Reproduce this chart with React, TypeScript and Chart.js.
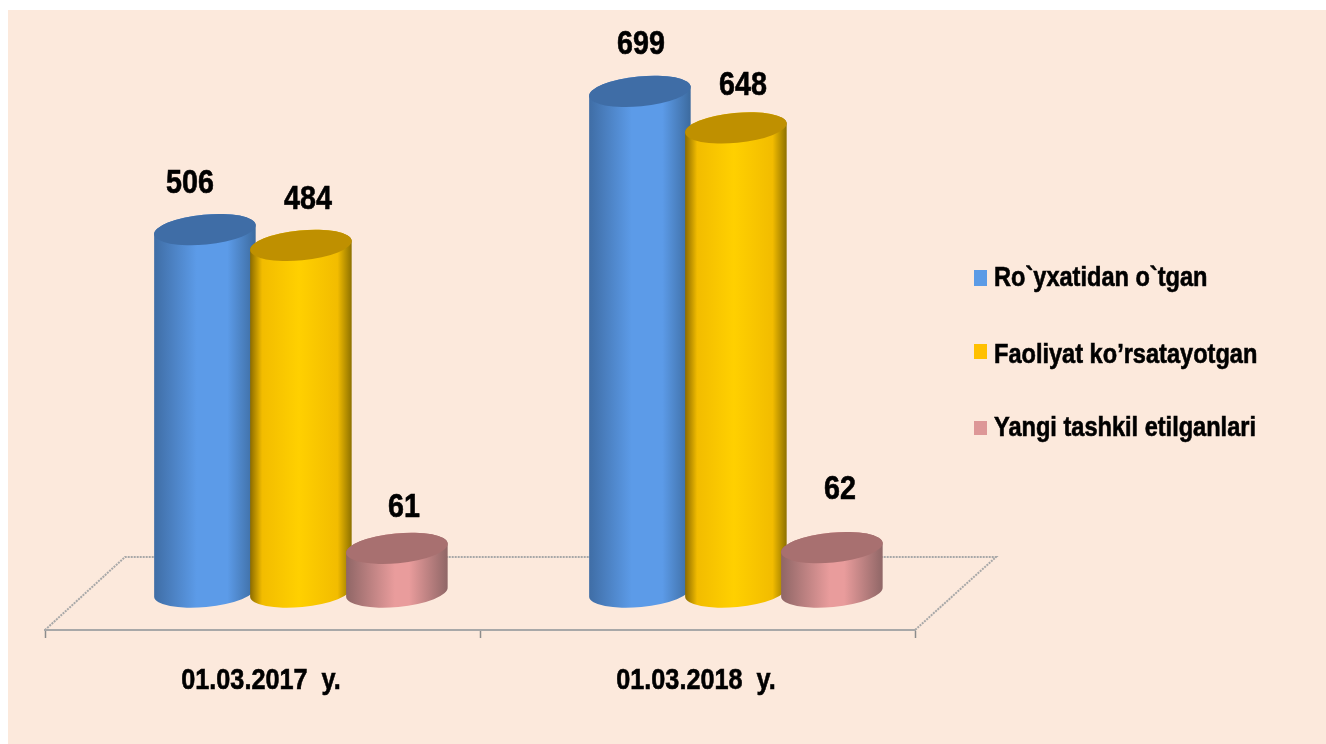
import React, { useEffect, useRef } from "react";
import { Chart, registerables } from "chart.js";

Chart.register(...registerables);

const categories = ["01.03.2017  y.", "01.03.2018  y."];
const seriesNames = ["Ro`yxatidan o`tgan", "Faoliyat ko’rsatayotgan", "Yangi tashkil etilganlari"];
const registered = [506, 699];
const active = [484, 648];
const created = [61, 62];

const swatches = ["#5B9BE6", "#FFC000", "#DD9797"];
const bodyStops: [number, string][][] = [
  [[0, "#3F6DA5"], [0.42, "#5C9BE8"], [0.72, "#5C9BE8"], [1, "#3C6A9E"]],
  [[0, "#8A6A00"], [0.12, "#F2BC00"], [0.48, "#FFD000"], [0.86, "#F2BC00"], [1, "#8C7000"]],
  [[0, "#8F6666"], [0.48, "#E99C9C"], [0.62, "#E99C9C"], [1, "#8F6666"]],
];
const capColors = ["#3F6DA6", "#BF9000", "#A87070"];
// label offset from each cylinder's cap, per series then per category
const labelNudge = [
  [[-15, -33], [1, -33]],
  [[7, -32], [7, -29]],
  [[7, -27], [8, -45]],
];

const BG = "#FCE9DC";
const INK = "#000000";
const SQUEEZE = 0.87;
const DEPTH_X = 80;
const DEPTH_Y = 73;
const TILT = (-5.5 * Math.PI) / 180;
const CAP_RY = 15;

function squeezedText(ctx: CanvasRenderingContext2D, text: string, x: number, y: number, px: number, align: CanvasTextAlign) {
  ctx.save();
  ctx.translate(x, y + 2);
  ctx.scale(SQUEEZE, 1);
  ctx.font = `bold ${px}px "Liberation Sans", Arial, sans-serif`;
  ctx.fillStyle = INK;
  ctx.strokeStyle = INK;
  ctx.lineWidth = 0.6;
  ctx.textAlign = align;
  ctx.textBaseline = "middle";
  ctx.strokeText(text, 0, 0);
  ctx.fillText(text, 0, 0);
  ctx.restore();
}

const scene = {
  id: "scene",
  beforeDraw(chart: any) {
    const { ctx } = chart;
    ctx.save();
    ctx.fillStyle = BG;
    ctx.fillRect(8, 10, 1318, 734);
    ctx.restore();
  },
  beforeDatasetsDraw(chart: any) {
    const { ctx, chartArea } = chart;
    const { left, right, bottom } = chartArea;
    // receding floor edges
    ctx.save();
    ctx.strokeStyle = "#A8A8A8";
    ctx.lineWidth = 2;
    ctx.setLineDash([2, 1]);
    ctx.beginPath();
    ctx.moveTo(left, bottom);
    ctx.lineTo(left + DEPTH_X, bottom - DEPTH_Y);
    ctx.lineTo(right + DEPTH_X + 1, bottom - DEPTH_Y);
    ctx.lineTo(right, bottom);
    ctx.stroke();
    ctx.restore();

    // cylinders, from each bar element's own position
    const shift = DEPTH_X * 0.48;
    const lift = DEPTH_Y * 0.52;
    chart.data.datasets.forEach((_: any, d: number) => {
      chart.getDatasetMeta(d).data.forEach((bar: any) => {
        const cx = bar.x + shift;
        const rx = bar.width / 2 + 3;
        const yTop = bar.y - lift;
        const yBase = bar.base - lift;
        const g = ctx.createLinearGradient(cx - rx, 0, cx + rx, 0);
        bodyStops[d].forEach(([at, c]) => g.addColorStop(at, c));
        ctx.save();
        ctx.fillStyle = g;
        ctx.beginPath();
        ctx.ellipse(cx, yTop, rx, CAP_RY, TILT, Math.PI, Math.PI * 2);
        ctx.ellipse(cx, yBase, rx, CAP_RY, TILT, 0, Math.PI);
        ctx.closePath();
        ctx.fill();
        ctx.fillStyle = capColors[d];
        ctx.beginPath();
        ctx.ellipse(cx, yTop, rx, CAP_RY, TILT, 0, Math.PI * 2);
        ctx.fill();
        ctx.restore();
      });
    });
    // value labels
    chart.data.datasets.forEach((ds: any, d: number) => {
      chart.getDatasetMeta(d).data.forEach((bar: any, i: number) => {
        const [nx, ny] = labelNudge[d][i];
        squeezedText(ctx, String(ds.data[i]), bar.x + shift + nx, bar.y - lift - CAP_RY + ny, 33, "center");
      });
    });
    return false;
  },
  afterDraw(chart: any) {
    const { ctx, scales } = chart;
    categories.forEach((c, i) => {
      squeezedText(ctx, c, scales.x.getPixelForTick(i) - 1.5, 678.5, 29, "center");
    });
    const rows = [277, 354, 427];
    const boxes = [[270, 16], [344, 15], [421, 14]];
    seriesNames.forEach((n, i) => {
      ctx.fillStyle = swatches[i];
      ctx.fillRect(974, boxes[i][0], 13, boxes[i][1]);
      squeezedText(ctx, n, 994, rows[i], 27.1, "left");
    });
  },
};

export default function App() {
  const ref = useRef<HTMLCanvasElement>(null);
  useEffect(() => {
    const chart = new Chart(ref.current!, {
      type: "bar",
      data: {
        labels: categories,
        datasets: [
          { label: seriesNames[0], data: registered, backgroundColor: swatches[0] },
          { label: seriesNames[1], data: active, backgroundColor: swatches[1] },
          { label: seriesNames[2], data: created, backgroundColor: swatches[2] },
        ],
      },
      plugins: [scene],
      options: {
        animation: false,
        responsive: false,
        layout: { padding: { left: 45, right: 411, top: 57, bottom: 106 } },
        plugins: { legend: { display: false }, tooltip: { enabled: false } },
        datasets: { bar: { categoryPercentage: 0.662, barPercentage: 1 } },
        scales: {
          x: {
            grid: { drawOnChartArea: false, drawTicks: true, tickLength: 8, tickColor: "#8C8C8C", tickWidth: 1.5 },
            border: { color: "#A8A8A8", width: 2, dash: [2, 1] },
            ticks: { display: false },
          },
          y: { display: false, min: 0, max: 800 },
        },
      },
    } as any);
    return () => chart.destroy();
  }, []);
  return (
    <canvas
      ref={ref}
      width={1326}
      height={744}
      style={{ position: "fixed", left: 0, top: 0, width: 1326, height: 744, display: "block" }}
    />
  );
}
